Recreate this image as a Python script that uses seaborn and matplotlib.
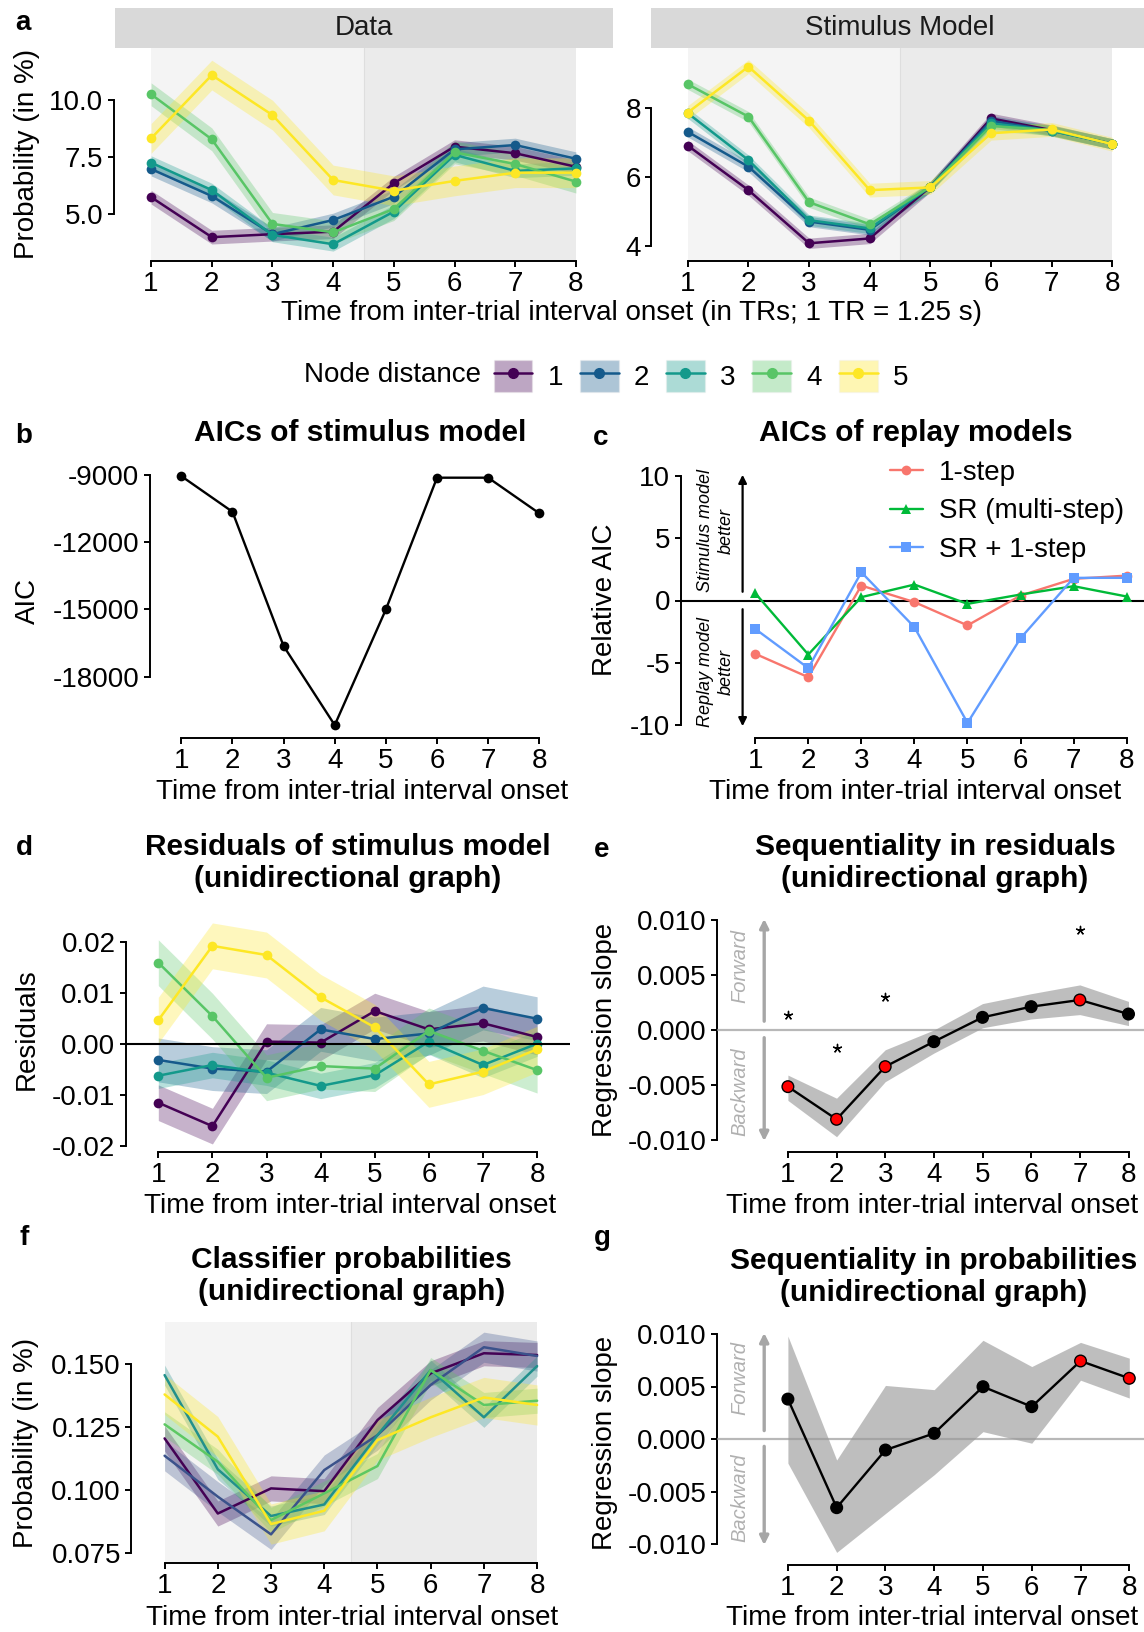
import numpy as np
import pandas as pd
import matplotlib
matplotlib.use('Agg')
import matplotlib.pyplot as plt
from matplotlib.lines import Line2D
from matplotlib.patches import Patch, Rectangle
from matplotlib.legend_handler import HandlerTuple
import seaborn as sns

# ---- data ----
tr = [1, 2, 3, 4, 5, 6, 7, 8]
node_names = ['1', '2', '3', '4', '5']

# panel a, data facet (probability in %)
a_data_n1 = [5.75, 4.00, 4.13, 4.24, 6.36, 7.96, 7.67, 7.08]
a_data_n2 = [6.98, 5.80, 4.13, 4.75, 5.77, 7.84, 8.03, 7.43]
a_data_n3 = [7.26, 6.06, 4.10, 3.69, 5.12, 7.60, 6.90, 7.01]
a_data_n4 = [10.25, 8.28, 4.58, 4.21, 5.23, 7.71, 7.20, 6.43]
a_data_n5 = [8.32, 11.09, 9.34, 6.50, 6.03, 6.46, 6.82, 6.82]
a_data_se = [0.30, 0.30, 0.30, 0.50, 0.65]

# panel a, stimulus model facet
a_model_n1 = [6.90, 5.61, 4.07, 4.21, 5.71, 7.69, 7.35, 6.95]
a_model_n2 = [7.30, 6.29, 4.70, 4.46, 5.71, 7.62, 7.33, 6.95]
a_model_n3 = [7.84, 6.48, 4.74, 4.50, 5.71, 7.55, 7.33, 6.95]
a_model_n4 = [8.68, 7.74, 5.26, 4.62, 5.71, 7.47, 7.35, 6.95]
a_model_n5 = [7.86, 9.19, 7.62, 5.61, 5.69, 7.26, 7.37, 6.94]
a_model_se = [0.15, 0.15, 0.15, 0.15, 0.20]

# panel b
aic_stim = [-9050, -10640, -16630, -20160, -15000, -9120, -9120, -10710]

# panel c
model_names = ['1-step', 'SR (multi-step)', 'SR + 1-step']
rel_one_step = [-4.28, -6.16, 1.20, -0.13, -2.00, 0.40, 1.74, 2.00]
rel_sr_multi = [0.59, -4.34, 0.27, 1.28, -0.27, 0.48, 1.15, 0.32]
rel_sr_plus = [-2.28, -5.43, 2.27, -2.14, -9.83, -3.03, 1.82, 1.82]

# panel d
res_n1 = [-0.0115, -0.0161, 0.0005, 0.0003, 0.0065, 0.0029, 0.0041, 0.0014]
res_n2 = [-0.0031, -0.0048, -0.0054, 0.0029, 0.0010, 0.0021, 0.0071, 0.0050]
res_n3 = [-0.0062, -0.0041, -0.0056, -0.0082, -0.0061, 0.0005, -0.0041, 0.0001]
res_n4 = [0.0160, 0.0055, -0.0066, -0.0043, -0.0048, 0.0026, -0.0013, -0.0051]
res_n5 = [0.0047, 0.0193, 0.0175, 0.0092, 0.0033, -0.0079, -0.0054, -0.0010]
res_se = [0.0035, 0.0043, 0.0025, 0.0045, 0.0045]

# panel e
e_slope = [-0.00515, -0.00812, -0.00333, -0.00106, 0.00115, 0.00212, 0.00273, 0.00145]
e_lo = [-0.0064, -0.0097, -0.0047, -0.0021, 0.0002, 0.0010, 0.0014, 0.0004]
e_hi = [-0.0041, -0.0062, -0.0018, 0.0000, 0.0024, 0.0033, 0.0041, 0.0026]
e_sig = [True, True, True, False, False, False, True, False]
e_star_tr = [1, 2, 3, 7]
e_star_y = [0.00136, -0.00167, 0.0030, 0.0091]

# panel f
cls_n1 = [0.1205, 0.0906, 0.1006, 0.0995, 0.1278, 0.1464, 0.1544, 0.1537]
cls_n2 = [0.1136, 0.0973, 0.0823, 0.1079, 0.1218, 0.1418, 0.1568, 0.1533]
cls_n3 = [0.1457, 0.1082, 0.0896, 0.0942, 0.1218, 0.1477, 0.1289, 0.1493]
cls_n4 = [0.1261, 0.1112, 0.0880, 0.0986, 0.1095, 0.1477, 0.1338, 0.1355]
cls_n5 = [0.1380, 0.1212, 0.0864, 0.0917, 0.1198, 0.1289, 0.1368, 0.1338]
cls_se = [0.005, 0.006, 0.004, 0.005, 0.008]

# panel g
g_slope = [0.0038, -0.00654, -0.00105, 0.00054, 0.00498, 0.00308, 0.00743, 0.00578]
g_lo = [-0.0023, -0.0108, -0.0071, -0.0034, 0.0007, -0.0004, 0.0056, 0.0039]
g_hi = [0.0098, -0.0020, 0.0051, 0.0047, 0.0094, 0.0069, 0.0092, 0.0077]
g_sig = [False, False, False, False, False, False, True, True]

pal_a = ['#440154', '#155a8b', '#13998b', '#58c566', '#fde725']
pal_f = ['#440154', '#3b528b', '#21908c', '#5dc863', '#fde725']
pal_c = ['#F8766D', '#00BA38', '#619CFF']

# ---- setup ----
sns.set_theme(style='ticks')
plt.rcParams['font.family'] = ['Liberation Sans', 'DejaVu Sans']
plt.rcParams['axes.unicode_minus'] = False
plt.rcParams['text.color'] = 'black'

W, H = 1144, 1632
fig = plt.figure(figsize=(W / 100, H / 100), dpi=100)
FS = 20       # axis labels, legends
TFS = 20      # tick labels
HFS = 21.5    # panel titles


def px_axes(l, t, r, b):
    return fig.add_axes([l / W, 1 - b / H, (r - l) / W, (b - t) / H])


def px_lim(p0, v0, p1, v1, a, b):
    k = (v1 - v0) / (p1 - p0)
    return v0 + (a - p0) * k, v0 + (b - p0) * k


def ftext(x, y, s, **kw):
    kw.setdefault('ha', 'center')
    kw.setdefault('va', 'center')
    kw.setdefault('fontsize', FS)
    fig.text(x / W, 1 - y / H, s, **kw)


def frame(ax, box, xpx, ypx, yticks, ylabels):
    l, t, r, b = box
    ax.set_xlim(px_lim(xpx[0], 1, xpx[1], 8, l, r))
    ax.set_ylim(px_lim(ypx[0], ypx[1], ypx[2], ypx[3], b, t))
    ax.set_xticks(tr)
    ax.set_yticks(yticks)
    ax.set_yticklabels(ylabels)
    ax.spines['top'].set_visible(False)
    ax.spines['right'].set_visible(False)
    ax.spines['left'].set_bounds(min(yticks), max(yticks))
    ax.spines['bottom'].set_bounds(1, 8)
    for s in ['left', 'bottom']:
        ax.spines[s].set_linewidth(1.4)
        ax.spines[s].set_color('black')
    ax.tick_params(labelsize=TFS, length=4.5, width=1.4, colors='black', pad=3)
    ax.set_xlabel('')
    ax.set_ylabel('')
    ax.set_facecolor('none')


def to_long(rows, half):
    recs = []
    for node, vals, h in zip(node_names, rows, half):
        for t, v in zip(tr, vals):
            recs.append({'tr': t, 'node': node, 'val': v, 'lo': v - h, 'hi': v + h})
    return pd.DataFrame(recs)


def node_panel(ax, df, palette, markers=True, alpha=0.3):
    for node, c in zip(node_names, palette):
        sub = df[df['node'] == node]
        ax.fill_between(sub['tr'], sub['lo'], sub['hi'], color=c, alpha=alpha, lw=0, zorder=1)
    kw = dict(marker='o', markersize=7, markeredgewidth=0) if markers else {}
    sns.lineplot(data=df, x='tr', y='val', hue='node', hue_order=node_names,
                 palette=palette, linewidth=1.8, legend=False, ax=ax, zorder=2, **kw)


def shade(ax):
    ax.axvspan(1, 4.5, color='#f4f4f4', lw=0, zorder=0)
    ax.axvspan(4.5, 8, color='#ebebeb', lw=0, zorder=0)
    ax.axvline(4.5, color='#dedede', lw=0.8, zorder=0)


def slope_panel(ax, slope, lo, hi, sig, arrow_x, text_x):
    ax.axhline(0, color='#9a9a9a', lw=1.6, alpha=0.7, zorder=3)
    ax.fill_between(tr, lo, hi, color='#7f7f7f', alpha=0.5, lw=0, zorder=1)
    d = pd.DataFrame({'tr': tr, 'slope': slope, 'sig': sig})
    sns.lineplot(data=d, x='tr', y='slope', color='black', linewidth=1.7, ax=ax, zorder=4)
    sns.scatterplot(data=d, x='tr', y='slope', hue='sig', palette={True: '#ff0000', False: 'black'},
                    s=70, edgecolor='black', linewidth=1.0, legend=False, ax=ax, zorder=5)
    arr = dict(arrowstyle='-|>', color='#a6a6a6', lw=2.4, mutation_scale=13, shrinkA=0, shrinkB=0)
    ax.annotate('', xy=(arrow_x, 0.0101), xytext=(arrow_x, 0.0008), arrowprops=arr)
    ax.annotate('', xy=(arrow_x, -0.0101), xytext=(arrow_x, -0.0007), arrowprops=arr)
    ax.text(text_x, 0.0058, 'Forward', rotation=90, style='italic', color='#b0b0b0',
            fontsize=14.5, ha='center', va='center')
    ax.text(text_x, -0.0056, 'Backward', rotation=90, style='italic', color='#b0b0b0',
            fontsize=14.5, ha='center', va='center')


# ---- panel a: data ----
box = (113.6, 48, 612.8, 261)
ax = px_axes(*box)
shade(ax)
node_panel(ax, to_long([a_data_n1, a_data_n2, a_data_n3, a_data_n4, a_data_n5], a_data_se), pal_a)
frame(ax, box, (151.1, 575.9), (100, 10, 214.3, 5), [5, 7.5, 10], ['5.0', '7.5', '10.0'])

# ---- panel a: stimulus model ----
box = (651.3, 48, 1144, 261)
ax = px_axes(*box)
shade(ax)
node_panel(ax, to_long([a_model_n1, a_model_n2, a_model_n3, a_model_n4, a_model_n5], a_model_se), pal_a)
frame(ax, box, (687.8, 1112.4), (107.7, 8, 245.7, 4), [4, 6, 8], ['4', '6', '8'])

for l, r, cx, lab in [(114.8, 612.8, 363.5, 'Data'), (651, 1144, 900, 'Stimulus Model')]:
    fig.add_artist(Rectangle((l / W, 1 - 47.7 / H), (r - l) / W, 39.4 / H, transform=fig.transFigure,
                             facecolor='#d9d9d9', edgecolor='none'))
    ftext(cx, 28, lab, color='#1a1a1a')

ftext(26.8, 154, 'Probability (in %)', rotation=90)
ftext(631.6, 313, 'Time from inter-trial interval onset (in TRs; 1 TR = 1.25 s)')

# legend
ftext(303.7, 375, 'Node distance', ha='left')
handles = [(Patch(facecolor=c, alpha=0.35, edgecolor='#eeeeee', lw=1),
            Line2D([], [], color=c, marker='o', markersize=7, lw=1.8)) for c in pal_a]
fig.legend(handles, node_names, handler_map={tuple: HandlerTuple(ndivide=1)}, ncol=5,
           loc='center left', bbox_to_anchor=(493.5 / W, 1 - 376 / H), frameon=False, fontsize=FS,
           handlelength=1.4, handleheight=1.4, handletextpad=0.55, columnspacing=0.6,
           borderpad=0, borderaxespad=0)

# ---- panel b ----
box = (149.8, 455, 575, 738)
ax = px_axes(*box)
sns.lineplot(x=tr, y=aic_stim, color='black', linewidth=1.7, marker='o', markersize=7,
             markeredgewidth=0, ax=ax)
frame(ax, box, (181.3, 539.3), (475, -9000, 676.7, -18000), [-18000, -15000, -12000, -9000],
      ['-18000', '-15000', '-12000', '-9000'])
ftext(360, 433, 'AICs of stimulus model', fontweight='bold', fontsize=HFS)
ftext(27.7, 601, 'AIC', rotation=90)
ftext(361.6, 792, 'Time from inter-trial interval onset')

# ---- panel c ----
box = (680.7, 455, 1144, 738)
ax = px_axes(*box)
ax.axhline(0, color='black', lw=1.5, zorder=1)
df_c = pd.DataFrame({'tr': tr * 3,
                     'model': np.repeat(model_names, len(tr)),
                     'aic': rel_one_step + rel_sr_multi + rel_sr_plus})
sns.lineplot(data=df_c, x='tr', y='aic', hue='model', hue_order=model_names, palette=pal_c,
             style='model', style_order=model_names, markers=['o', '^', 's'], dashes=False,
             markersize=7, markeredgewidth=0, linewidth=1.7, legend=False, ax=ax, zorder=3)
frame(ax, box, (755.2, 1126.7), (476, 10, 725, -10), [-10, -5, 0, 5, 10],
      ['-10', '-5', '0', '5', '10'])
arrow_x = px_lim(755.2, 1, 1126.7, 8, 742.6, 742.6)[0]
txt_x = px_lim(755.2, 1, 1126.7, 8, 716, 716)[0]
arr = dict(arrowstyle='-|>', color='black', lw=1.6, mutation_scale=12, shrinkA=0, shrinkB=0)
ax.annotate('', xy=(arrow_x, 10.1), xytext=(arrow_x, 0.7), arrowprops=arr)
ax.annotate('', xy=(arrow_x, -10.1), xytext=(arrow_x, -0.7), arrowprops=arr)
ax.text(txt_x, 5.6, 'Stimulus model\nbetter', rotation=90, style='italic', fontsize=13,
        ha='center', va='center', multialignment='center', linespacing=1.3)
ax.text(txt_x, -5.75, 'Replay model\nbetter', rotation=90, style='italic', fontsize=13,
        ha='center', va='center', multialignment='center', linespacing=1.3)
c_handles = [Line2D([], [], color=c, marker=m, markersize=7, markeredgewidth=0, lw=1.7)
             for c, m in zip(pal_c, ['o', '^', 's'])]
ax.legend(c_handles, model_names, loc='upper left', bbox_to_anchor=(890 / W, 1 - 460 / H),
          bbox_transform=fig.transFigure, frameon=False, fontsize=FS, handlelength=1.17,
          handletextpad=0.58, labelspacing=0.45, borderpad=0, borderaxespad=0)
ftext(915.4, 433, 'AICs of replay models', fontweight='bold', fontsize=HFS)
ftext(605.2, 600, 'Relative AIC', rotation=90)
ftext(915.4, 792, 'Time from inter-trial interval onset')

# ---- panel d ----
box = (125.8, 915, 569.6, 1152)
ax = px_axes(*box)
ax.axhline(0, color='black', lw=1.5, zorder=3)
node_panel(ax, to_long([res_n1, res_n2, res_n3, res_n4, res_n5], res_se), pal_a)
frame(ax, box, (158.3, 537.1), (942.3, 0.02, 1146, -0.02), [-0.02, -0.01, 0, 0.01, 0.02],
      ['-0.02', '-0.01', '0.00', '0.01', '0.02'])
ftext(347.7, 863, 'Residuals of stimulus model\n(unidirectional graph)', fontweight='bold',
      fontsize=HFS, linespacing=1.15)
ftext(26.8, 1029, 'Residuals', rotation=90)
ftext(349.6, 1206, 'Time from inter-trial interval onset')

# ---- panel e ----
box = (716.7, 905, 1144, 1152)
ax = px_axes(*box)
sx = px_lim(787.9, 1, 1128.5, 8, 764.2, 740)
slope_panel(ax, e_slope, e_lo, e_hi, e_sig, sx[0], sx[1])
sns.scatterplot(x=e_star_tr, y=e_star_y, marker=(5, 2, 0), s=35, color='black',
                linewidth=1.0, legend=False, ax=ax)
frame(ax, box, (787.9, 1128.5), (920, 0.01, 1140, -0.01), [-0.01, -0.005, 0, 0.005, 0.01],
      ['-0.010', '-0.005', '0.000', '0.005', '0.010'])
ftext(935, 863, 'Sequentiality in residuals\n(unidirectional graph)', fontweight='bold',
      fontsize=HFS, linespacing=1.15)
ftext(605.2, 1030, 'Regression slope', rotation=90)
ftext(931.6, 1206, 'Time from inter-trial interval onset')

# ---- panel f ----
box = (131.3, 1322, 545, 1563)
ax = px_axes(*box)
shade(ax)
node_panel(ax, to_long([cls_n1, cls_n2, cls_n3, cls_n4, cls_n5], cls_se), pal_f, markers=False)
frame(ax, box, (164.6, 537.1), (1364.3, 0.150, 1552.7, 0.075), [0.075, 0.1, 0.125, 0.15],
      ['0.075', '0.100', '0.125', '0.150'])
ftext(351.4, 1276, 'Classifier probabilities\n(unidirectional graph)', fontweight='bold',
      fontsize=HFS, linespacing=1.15)
ftext(25.9, 1443, 'Probability (in %)', rotation=90)
ftext(352.3, 1618, 'Time from inter-trial interval onset')

# ---- panel g ----
box = (716.7, 1315, 1144, 1565)
ax = px_axes(*box)
sx = px_lim(787.9, 1, 1129.3, 8, 764.2, 740)
slope_panel(ax, g_slope, g_lo, g_hi, g_sig, sx[0], sx[1])
frame(ax, box, (787.9, 1129.3), (1334, 0.01, 1544, -0.01), [-0.01, -0.005, 0, 0.005, 0.01],
      ['-0.010', '-0.005', '0.000', '0.005', '0.010'])
ftext(933.4, 1277, 'Sequentiality in probabilities\n(unidirectional graph)', fontweight='bold',
      fontsize=HFS, linespacing=1.15)
ftext(605.2, 1443, 'Regression slope', rotation=90)
ftext(931.6, 1618, 'Time from inter-trial interval onset')

# panel letters
for x, y, s in [(22.6, 23, 'a'), (24, 436, 'b'), (600.7, 438, 'c'), (24, 848, 'd'),
                (601.6, 850, 'e'), (24, 1238, 'f'), (602.5, 1238, 'g')]:
    ftext(x, y, s, fontweight='bold', fontsize=20)

fig.savefig('out.png', dpi=100)
